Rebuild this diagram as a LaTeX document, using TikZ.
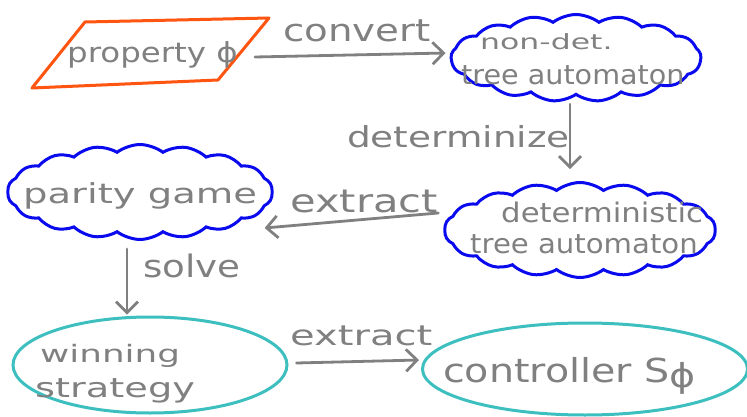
\documentclass[tikz,border=0pt]{standalone}
\usepackage{fontspec}
\newfontfamily\hand{DejaVu Sans}
\usetikzlibrary{shapes.geometric,shapes.symbols,arrows.meta,calc}
\definecolor{inkgray}{HTML}{808080}
\definecolor{inkorange}{HTML}{FF5511}
\definecolor{inkblue}{HTML}{0A0AEE}
\definecolor{inkteal}{HTML}{3DBFBF}
\newcommand{\hw}[2]{\scalebox{#1}[1]{#2}}
\begin{document}
\begin{tikzpicture}[x=1pt,y=-1pt,
  txt/.style={inner sep=0pt, anchor=base west, text=inkgray, font=\hand\fontsize{#1}{#1}\selectfont},
  puff/.style={cloud, cloud puffs=#1, cloud puff arc=75, cloud ignores aspect, draw=inkblue, line width=3pt, inner sep=0pt},
  oval/.style={ellipse, draw=inkteal, line width=3pt, inner sep=0pt},
  arr/.style={draw=inkgray, line width=2.8pt, line cap=round, line join=round, -{Straight Barb[length=11pt,width=22pt]}},
]
\useasboundingbox (0,0) rectangle (747,417);
% shapes
\coordinate (pBL) at (32,88);
\coordinate (pTL) at (85,22);
\coordinate (pTR) at (269,18);
\coordinate (pBR) at (218,80);
\coordinate (propE) at (244,55);
\draw[draw=inkorange, line width=3pt, line join=round] (pBL) -- (pTL) -- (pTR) -- (pBR) -- cycle;
\node[puff=17, minimum width=250pt, minimum height=87pt] (nda) at (576,58) {};
\node[puff=18, minimum width=271pt, minimum height=95pt] (det) at (580,230) {};
\node[puff=18, minimum width=265pt, minimum height=95pt] (pg) at (140,192) {};
\node[oval, minimum width=274pt, minimum height=96pt] (ws) at (150,365) {};
\node[oval, minimum width=325pt, minimum height=92pt] (ctrl) at (585,369) {};
% texts
\node[txt=27.5] (propt) at (67,63) {\hw{1.18}{property ϕ}};
\node[txt=21] (ndat1) at (480,50) {\hw{1.5}{non-det.}};
\node[txt=27] (ndat2) at (461,85) {\hw{1.06}{tree automaton}};
\node[txt=27] (dett1) at (501,222) {\hw{1.14}{deterministic}};
\node[txt=27] (dett2) at (470,253) {\hw{1.08}{tree automaton}};
\node[txt=27.5] (pgt) at (23,203) {\hw{1.4}{parity game}};
\node[txt=24] (wst1) at (40,362) {\hw{1.49}{winning}};
\node[txt=27] (wst2) at (35,397) {\hw{1.42}{strategy}};
\node[txt=33] (ctrlt) at (443,382) {\hw{1.2}{controller S\raisebox{-5pt}{ϕ}}};
% connectors
\draw[arr] ($(propE)+(11,2)$) -- ($(nda.west)+(-4,-5)$);
\draw[arr] ($(nda.south)+(-6,8)$) -- ($(nda.south)+(-6,73)$);
\draw[arr] ($(det.west)+(-5,-17)$) -- ($(pg.east)+(-9,36)$);
\draw[arr] ($(pg.south)+(-13,8)$) -- ($(ws.north)+(-23,-1)$);
\draw[arr] ($(ws.east)+(8,-2)$) -- ($(ctrl.west)+(-2,-9)$);
% labels
\node[txt=31] (lconv) at (283,42) {\hw{1.25}{convert}};
\node[txt=29] (ldet) at (347,148) {\hw{1.29}{determinize}};
\node[txt=32] (lext1) at (290,212) {\hw{1.3}{extract}};
\node[txt=31] (lsolve) at (143,277) {\hw{1.2}{solve}};
\node[txt=28] (lext2) at (290,345) {\hw{1.43}{extract}};
\end{tikzpicture}
\end{document}
